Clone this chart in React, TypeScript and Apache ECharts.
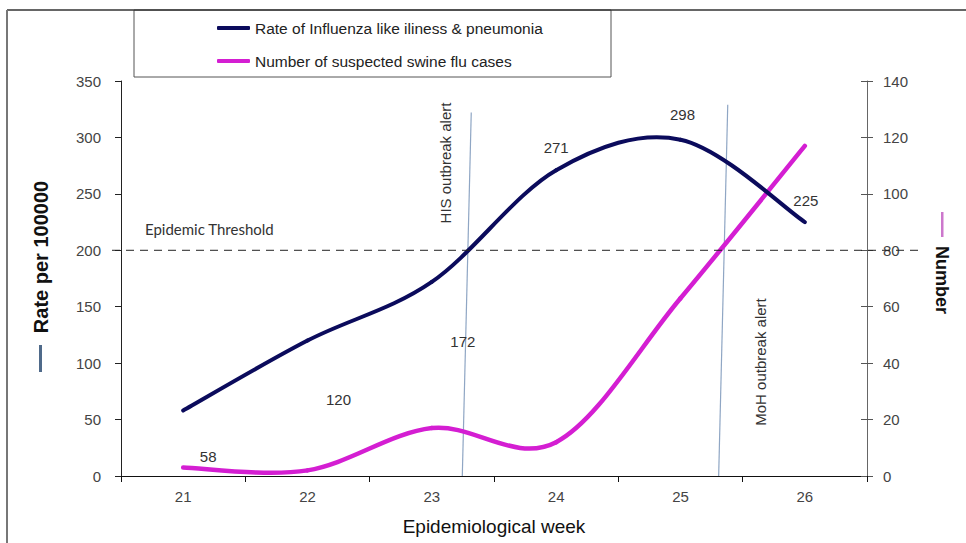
import React, { useEffect, useRef } from "react";
import * as echarts from "echarts";

const WEEKS = ["21", "22", "23", "24", "25", "26"];
const RATE = [58, 120, 172, 271, 298, 225];
const SUSPECTED = [3, 2, 17, 12, 63, 117];
const THRESHOLD = 200;
const HIS_ALERT = [[23.245, 0], [23.317, 322]];
const MOH_ALERT = [[25.307, 0], [25.38, 329]];
const RATE_NAME = "Rate of Influenza like iliness & pneumonia";
const CASES_NAME = "Number of suspected swine flu cases";

// label placement (style)
const RATE_LABEL_OFFSETS = [[25, 46], [31, 59], [31, 60], [0, -23], [2, -25], [1, -22]];

const FONT = "'Liberation Sans', Arial, sans-serif";

// Smooth (Catmull-Rom style, like a spreadsheet's smoothed line) drawn through the library's scales
function makeSmoothRender(values: number[], color: string, width: number, labels: boolean) {
  return (params: any, api: any) => {
    const i = params.dataIndex;
    const n = values.length;
    const P = (k: number) => {
      const kk = Math.max(0, Math.min(n - 1, k));
      return api.coord([kk, values[kk]]);
    };
    const children: any[] = [];
    if (i < n - 1) {
      const p0 = P(i - 1), p1 = P(i), p2 = P(i + 1), p3 = P(i + 2);
      children.push({
        type: "bezierCurve",
        shape: {
          x1: p1[0],
          y1: p1[1],
          cpx1: p1[0] + (p2[0] - p0[0]) / 6,
          cpy1: p1[1] + (p2[1] - p0[1]) / 6,
          cpx2: p2[0] - (p3[0] - p1[0]) / 6,
          cpy2: p2[1] - (p3[1] - p1[1]) / 6,
          x2: p2[0],
          y2: p2[1],
        },
        style: { stroke: color, lineWidth: width, fill: null, lineCap: "round" },
      });
    }
    if (labels) {
      const p = P(i);
      const off = RATE_LABEL_OFFSETS[i];
      children.push({
        type: "text",
        x: p[0] + off[0],
        y: p[1] + off[1],
        style: {
          text: String(values[i]),
          fill: "#333",
          fontFamily: FONT,
          fontSize: 15,
          align: "center",
          verticalAlign: "middle",
        },
        z2: 10,
      });
    }
    return { type: "group", children };
  };
}

export default function App() {
  const ref = useRef<HTMLDivElement>(null);
  useEffect(() => {
    const chart = echarts.init(ref.current!, null, { renderer: "svg" });
    const option: any = {
      animation: false,
      backgroundColor: "#ffffff",
      textStyle: { fontFamily: FONT },
      grid: { left: 121, right: 99, top: 81, bottom: 67, containLabel: false },
      legend: {
        data: [RATE_NAME, CASES_NAME],
        orient: "vertical",
        left: 212,
        top: 15,
        icon: "roundRect",
        itemWidth: 33,
        itemHeight: 4,
        itemGap: 17,
        textStyle: { fontFamily: FONT, fontSize: 15.5, color: "#222", lineHeight: 16 },
      },
      xAxis: [
        {
          type: "category",
          data: WEEKS,
          boundaryGap: true,
          axisLine: { lineStyle: { color: "#111", width: 1 } },
          axisTick: { show: true, length: 6, lineStyle: { color: "#111" } },
          axisLabel: { fontFamily: FONT, fontSize: 15, color: "#444", margin: 13 },
          name: "Epidemiological week",
          nameLocation: "middle",
          nameGap: 41,
          nameTextStyle: { fontFamily: FONT, fontSize: 19, color: "#111" },
          splitLine: { show: false },
        },
        { type: "value", min: 20.5, max: 26.5, show: false },
      ],
      yAxis: [
        {
          type: "value",
          min: 0,
          max: 350,
          interval: 50,
          position: "left",
          axisLine: { show: true, lineStyle: { color: "#222" } },
          axisTick: { show: true, length: 6, lineStyle: { color: "#222" } },
          axisLabel: { fontFamily: FONT, fontSize: 15, color: "#444", margin: 20 },
          splitLine: { show: false },
        },
        {
          type: "value",
          min: 0,
          max: 140,
          interval: 20,
          position: "right",
          offset: 0,
          axisLine: { show: true, lineStyle: { color: "#666" } },
          axisTick: { show: true, length: 6, lineStyle: { color: "#555" } },
          axisLabel: { fontFamily: FONT, fontSize: 15, color: "#444", margin: 16 },
          splitLine: { show: false },
        },
        {
          type: "value",
          min: 0,
          max: 140,
          interval: 20,
          position: "right",
          offset: 0,
          axisLine: { show: false },
          axisTick: { show: true, inside: true, length: 6, lineStyle: { color: "#555" } },
          axisLabel: { show: false },
          splitLine: { show: false },
        },
      ],
      series: [
        {
          name: "his-alert",
          type: "line",
          xAxisIndex: 1,
          yAxisIndex: 0,
          data: HIS_ALERT,
          symbol: "none",
          silent: true,
          lineStyle: { color: "#8fa6c4", width: 1.2 },
          z: 1,
        },
        {
          name: "moh-alert",
          type: "line",
          xAxisIndex: 1,
          yAxisIndex: 0,
          data: MOH_ALERT,
          symbol: "none",
          silent: true,
          lineStyle: { color: "#8fa6c4", width: 1.2 },
          z: 1,
        },
        {
          name: RATE_NAME,
          type: "custom",
          xAxisIndex: 0,
          yAxisIndex: 0,
          color: "#0b0b5c",
          itemStyle: { color: "#0b0b5c" },
          data: RATE.map((v, i) => [i, v]),
          encode: { x: 0, y: 1 },
          renderItem: makeSmoothRender(RATE, "#0b0b5c", 4, true),
          silent: true,
          z: 3,
        },
        {
          name: CASES_NAME,
          type: "custom",
          xAxisIndex: 0,
          yAxisIndex: 1,
          color: "#d41ed2",
          itemStyle: { color: "#d41ed2" },
          data: SUSPECTED.map((v, i) => [i, v]),
          encode: { x: 0, y: 1 },
          renderItem: makeSmoothRender(SUSPECTED, "#d41ed2", 4.5, false),
          silent: true,
          z: 2,
        },
      ],
    };
    chart.setOption(option);
    const yT = chart.convertToPixel({ yAxisIndex: 0 }, THRESHOLD) as number;
    chart.setOption({
      graphic: [
        { id: "frameTop", type: "line", shape: { x1: 7, y1: 10, x2: 966, y2: 10 }, style: { stroke: "#333", lineWidth: 1.5 }, silent: true },
        { id: "frameLeft", type: "line", shape: { x1: 7, y1: 10, x2: 7, y2: 543 }, style: { stroke: "#777", lineWidth: 2 }, silent: true },
        { id: "legendBox", type: "rect", shape: { x: 134, y: 10, width: 477, height: 67 }, style: { fill: "none", stroke: "#555", lineWidth: 1 }, silent: true, z: -1 },
        {
          id: "thr",
          type: "line",
          shape: { x1: 112, y1: yT, x2: 920, y2: yT },
          style: { stroke: "#222", lineWidth: 1, lineDash: [8, 6] },
          silent: true,
          z: 5,
        },
        {
          id: "thrText",
          type: "text",
          x: 145,
          y: yT - 21,
          style: { text: "Epidemic Threshold", fontFamily: "Lato, 'Open Sans', sans-serif", fontSize: 15, fill: "#333", textAlign: "left", textVerticalAlign: "middle" },
          silent: true,
        },
        {
          id: "hisText",
          type: "text",
          x: 445,
          y: 163,
          rotation: Math.PI / 2,
          style: { text: "HIS outbreak alert", fontFamily: FONT, fontSize: 15, fill: "#333", textAlign: "center", textVerticalAlign: "middle" },
          silent: true,
        },
        {
          id: "mohText",
          type: "text",
          x: 760,
          y: 362,
          rotation: Math.PI / 2,
          style: { text: "MoH outbreak alert", fontFamily: FONT, fontSize: 15, fill: "#333", textAlign: "center", textVerticalAlign: "middle" },
          silent: true,
        },
        {
          id: "leftTitle",
          type: "text",
          x: 41,
          y: 257,
          rotation: Math.PI / 2,
          style: { text: "Rate per 100000", fontFamily: FONT, fontSize: 20, fontWeight: "bold", fill: "#111", textAlign: "center", textVerticalAlign: "middle" },
          silent: true,
        },
        { id: "leftKey", type: "rect", shape: { x: 39, y: 345, width: 3, height: 27 }, style: { fill: "#4f6a8a" }, silent: true },
        {
          id: "rightTitle",
          type: "text",
          x: 942,
          y: 280,
          rotation: -Math.PI / 2,
          style: { text: "Number", fontFamily: FONT, fontSize: 18, fontWeight: "bold", fill: "#111", textAlign: "center", textVerticalAlign: "middle" },
          silent: true,
        },
        { id: "rightKey", type: "rect", shape: { x: 941, y: 212, width: 2.5, height: 25 }, style: { fill: "#cc77cc" }, silent: true },
      ],
    });
    return () => chart.dispose();
  }, []);
  return (
    <div
      ref={ref}
      style={{ position: "fixed", left: 0, top: 0, width: 966, height: 543, background: "#fff" }}
    />
  );
}
